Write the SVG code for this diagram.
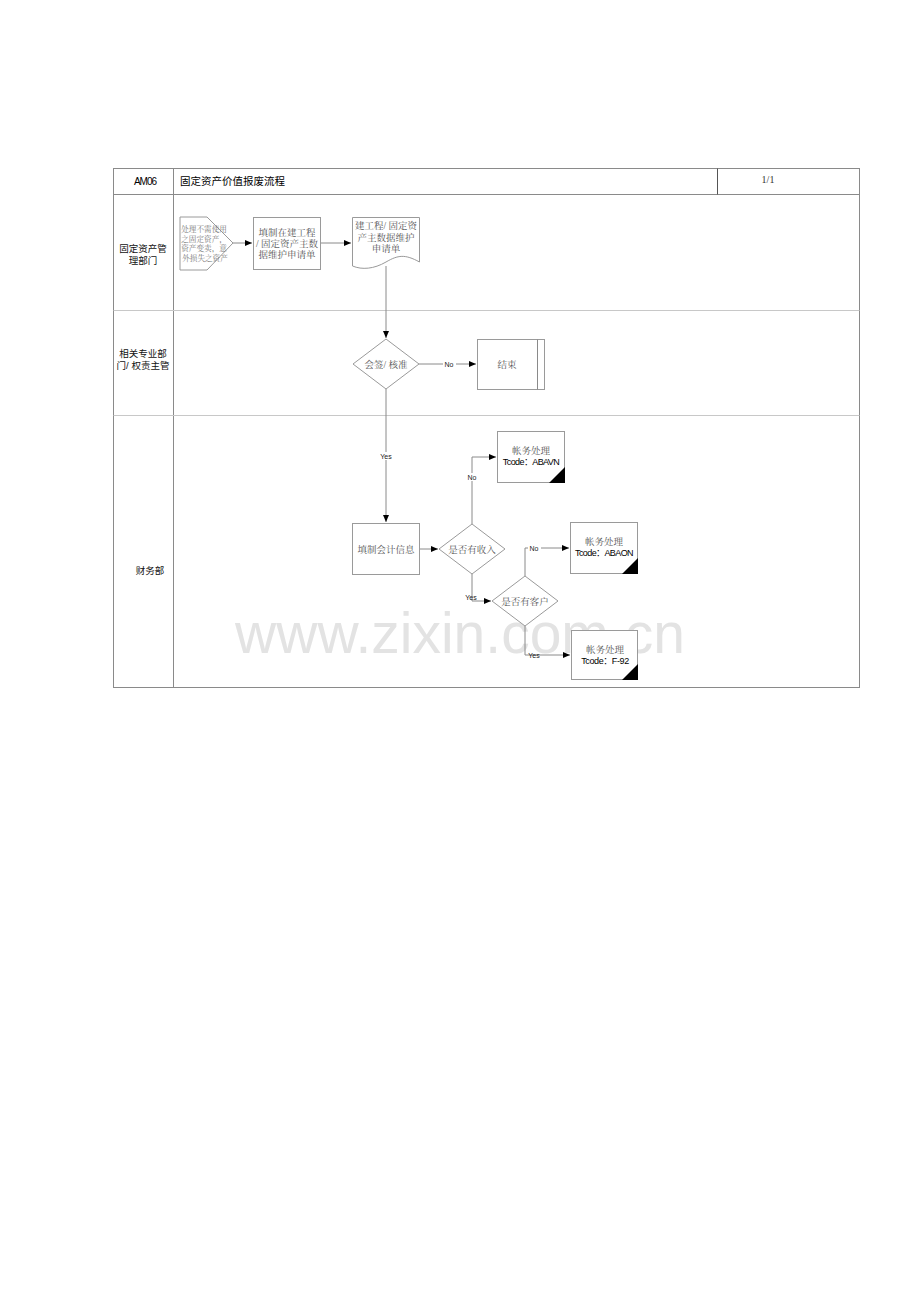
<svg xmlns="http://www.w3.org/2000/svg" width="920" height="1301" viewBox="0 0 920 1301">
<style>
.sans{font-family:"Liberation Sans","Noto Sans CJK SC",sans-serif;}
.serif{font-family:"Liberation Serif","Noto Serif CJK SC","Noto Sans CJK SC",serif;}
.box{fill:#fff;stroke:#9a9a9a;stroke-width:1;}
.ln{fill:none;stroke:#8a8a8a;stroke-width:1;}
.lane{stroke:#c8c8c8;stroke-width:1;}
.t{font-size:9.5px;fill:#555;text-anchor:middle;}
.lbl{font-size:7px;fill:#222;text-anchor:middle;}
.lanet{font-size:9.5px;fill:#111;text-anchor:middle;}
</style>
<defs>
<marker id="ah" markerWidth="8" markerHeight="8" refX="7" refY="3.5" orient="auto" markerUnits="userSpaceOnUse">
<path d="M0,0.5 L7,3.5 L0,6.5 Z" fill="#000"/>
</marker>
</defs>
<rect width="920" height="1301" fill="#fff"/>
<text x="460" y="653" class="sans" font-size="57" fill="#e3e3e3" text-anchor="middle">www.zixin.com.cn</text>
<g id="frame">
<rect x="113.5" y="168.5" width="746" height="519" fill="none" stroke="#8a8a8a"/>
<line x1="113.5" y1="194.5" x2="859.5" y2="194.5" stroke="#8a8a8a"/>
<line x1="173.5" y1="168.5" x2="173.5" y2="687.5" stroke="#8a8a8a"/>
<line x1="717.5" y1="168.5" x2="717.5" y2="194.5" stroke="#555"/>
<line x1="113.5" y1="310.5" x2="859.5" y2="310.5" class="lane"/>
<line x1="113.5" y1="415.5" x2="859.5" y2="415.5" class="lane"/>
<text x="145" y="185" class="sans" font-size="10" fill="#000" text-anchor="middle" letter-spacing="-1">AM06</text>
<text x="180" y="185" class="sans" font-size="10.5" fill="#000">固定资产价值报废流程</text>
<text x="768" y="183" class="serif" font-size="10" fill="#333" text-anchor="middle">1/1</text>
<text x="143" y="252" class="sans lanet">固定资产管</text>
<text x="143" y="264" class="sans lanet">理部门</text>
<text x="143" y="357" class="sans lanet">相关专业部</text>
<text x="143" y="369" class="sans lanet">门/ 权责主管</text>
<text x="150" y="574" class="sans lanet">财务部</text>
</g>
<g id="connectors">
<line x1="233" y1="243" x2="252" y2="243" class="ln" marker-end="url(#ah)"/>
<line x1="320" y1="243" x2="351" y2="243" class="ln" marker-end="url(#ah)"/>
<line x1="386" y1="266" x2="386" y2="338" class="ln" marker-end="url(#ah)"/>
<line x1="419" y1="364" x2="476" y2="364" class="ln" marker-end="url(#ah)"/>
<line x1="386" y1="389" x2="386" y2="522" class="ln" marker-end="url(#ah)"/>
<line x1="419" y1="549" x2="438" y2="549" class="ln" marker-end="url(#ah)"/>
<polyline points="472,524 472,457 496,457" class="ln" marker-end="url(#ah)"/>
<polyline points="472,574 472,601 491,601" class="ln" marker-end="url(#ah)"/>
<polyline points="525,576 525,548 569,548" class="ln" marker-end="url(#ah)"/>
<polyline points="525,626 525,655 570,655" class="ln" marker-end="url(#ah)"/>
<rect x="443" y="360" width="13" height="8" fill="#fff"/>
<text x="449" y="366.5" class="sans lbl">No</text>
<rect x="379" y="452" width="15" height="8" fill="#fff"/>
<text x="386" y="458.5" class="sans lbl">Yes</text>
<rect x="466" y="473" width="12" height="8" fill="#fff"/>
<text x="472" y="479.5" class="sans lbl">No</text>
<text x="471" y="599.5" class="sans lbl">Yes</text>
<rect x="528" y="544" width="13" height="8" fill="#fff"/>
<text x="534" y="550.5" class="sans lbl">No</text>
<text x="534" y="657.5" class="sans lbl">Yes</text>
</g>
<g id="n1">
<polygon points="180,217 207,217 233,243 207,270 180,270" class="box"/>
<text class="serif" font-size="7.6" fill="#777" text-anchor="middle">
<tspan x="205" y="232">处理不需使用</tspan>
<tspan x="205" y="241.5">之固定资产，</tspan>
<tspan x="205" y="251">资产变卖，意</tspan>
<tspan x="205" y="260.5">外损失之资产</tspan>
</text>
</g>
<g id="n2">
<rect x="253.5" y="217.5" width="67" height="52" class="box"/>
<text class="serif t"><tspan x="287" y="236">填制在建工程</tspan><tspan x="287" y="247">/ 固定资产主数</tspan><tspan x="287" y="258">据维护申请单</tspan></text>
</g>
<g id="n3">
<path d="M352.5,217.5 H419.5 V262 C405,254 398,255 386,262 C374,269 362,270 352.5,266 Z" class="box"/>
<text class="serif t"><tspan x="386" y="229">建工程/ 固定资</tspan><tspan x="386" y="240.5">产主数据维护</tspan><tspan x="386" y="252">申请单</tspan></text>
</g>
<g id="n4">
<polygon points="386,339 419,364 386,389 353,364" class="box"/>
<text x="386" y="367.5" class="serif t">会签/ 核准</text>
</g>
<g id="n5">
<rect x="477.5" y="339.5" width="67" height="50" class="box"/>
<line x1="537.5" y1="339.5" x2="537.5" y2="389.5" class="ln"/>
<text x="507" y="367.5" class="serif t">结束</text>
</g>
<g id="n6">
<rect x="352.5" y="523.5" width="67" height="51" class="box"/>
<text x="386" y="552.5" class="serif t">填制会计信息</text>
</g>
<g id="n7">
<polygon points="472,524 505,549 472,574 439,549" class="box"/>
<text x="472" y="552.5" class="serif t">是否有收入</text>
</g>
<g id="n8">
<rect x="497.5" y="431.5" width="67" height="51" class="box"/>
<polygon points="565,467 565,483 549,483" fill="#000"/>
<text x="531" y="454" class="serif t">帐务处理</text>
<text x="531" y="465" class="sans" font-size="9" fill="#000" text-anchor="middle" letter-spacing="-0.6">Tcode：ABAVN</text>
</g>
<g id="n9">
<polygon points="525,576 558,601 525,626 492,601" class="box"/>
<text x="525" y="604.5" class="serif t">是否有客户</text>
</g>
<g id="n10">
<rect x="570.5" y="522.5" width="67" height="51" class="box"/>
<polygon points="638,558 638,574 622,574" fill="#000"/>
<text x="604" y="545" class="serif t">帐务处理</text>
<text x="604" y="556" class="sans" font-size="9" fill="#000" text-anchor="middle" letter-spacing="-0.6">Tcode：ABAON</text>
</g>
<g id="n11">
<rect x="571.5" y="630.5" width="66" height="49" class="box"/>
<polygon points="638,664 638,680 622,680" fill="#000"/>
<text x="605" y="653" class="serif t">帐务处理</text>
<text x="605" y="664" class="sans" font-size="9" fill="#000" text-anchor="middle" letter-spacing="-0.4">Tcode：F-92</text>
</g>
</svg>
